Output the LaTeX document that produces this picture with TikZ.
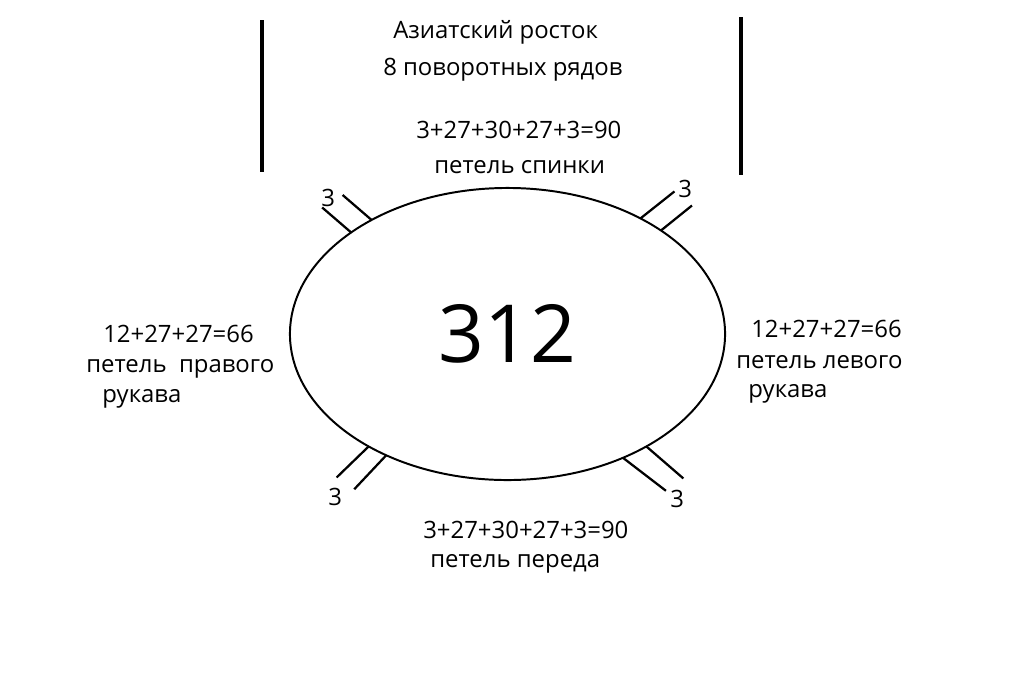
\documentclass[tikz,border=0pt]{standalone}
\usepackage{fontspec}
\setmainfont{Open Sans}
\usetikzlibrary{shapes.geometric}

\begin{document}
\begin{tikzpicture}[x=0.025cm, y=-0.025cm,
% common options for the labels:
lbl/.style = {anchor=base west, inner sep=0, font=\fontsize{17}{20}\selectfont},
% common options for the tick pairs:
tick/.style = {line width=1.6pt},
% the raglan bars:
bar/.style = {line width=2.2pt}]
\useasboundingbox (0,0) rectangle (1024,672);
% the yoke
\node[draw, ellipse, line width=1.4pt, minimum width=10.875cm, minimum height=7.3cm,
      inner sep=0, outer sep=0, font=\fontsize{57}{57}\selectfont] (oval) at (507.5,334) {312};
% bars at the top
\coordinate (BL1) at (262,20);  \coordinate (BL2) at (262,172);
\coordinate (BR1) at (741,17);  \coordinate (BR2) at (741,175);
\draw[bar] (BL1) -- (BL2);
\draw[bar] (BR1) -- (BR2);
% texts
\node[lbl] (T0) at (393,38) {Азиатский росток};
\node[lbl] (T1) at (383,75) {8 поворотных рядов};
\node[lbl] (T2) at (416,138) {3+27+30+27+3=90};
\node[lbl] (T3) at (434,173) {петель спинки};
\node[lbl] (D0) at (423,538) {3+27+30+27+3=90};
\node[lbl] (D1) at (430,567) {петель переда};
\node[lbl] (L0) at (103,342) {12+27+27=66};
\node[lbl] (L1) at (86,372) {петель\ \ правого};
\node[lbl] (L2) at (102,402) {рукава};
\node[lbl] (R0) at (751,337) {12+27+27=66};
\node[lbl] (R1) at (736,368) {петель левого};
\node[lbl] (R2) at (748,397) {рукава};
% the 3's at the corners
\node[lbl] (N1) at (321,206) {3};
\node[lbl] (N2) at (678,197) {3};
\node[lbl] (N3) at (328,505) {3};
\node[lbl] (N4) at (670,507) {3};
\draw[tick] (oval.147.6) -- ++(-29,-25);
\draw[tick] (oval.140.8) -- ++(-29,-25);
\draw[tick] (oval.41.5) -- ++(34,-27);
\draw[tick] (oval.34.2) -- ++(31,-25);
\draw[tick] (oval.219.5) -- ++(-32,31);
\draw[tick] (oval.225.8) -- ++(-32,34);
\draw[tick] (oval.313.3) -- ++(43,33);
\draw[tick] (oval.321.3) -- ++(37,32);
\end{tikzpicture}
\end{document}
